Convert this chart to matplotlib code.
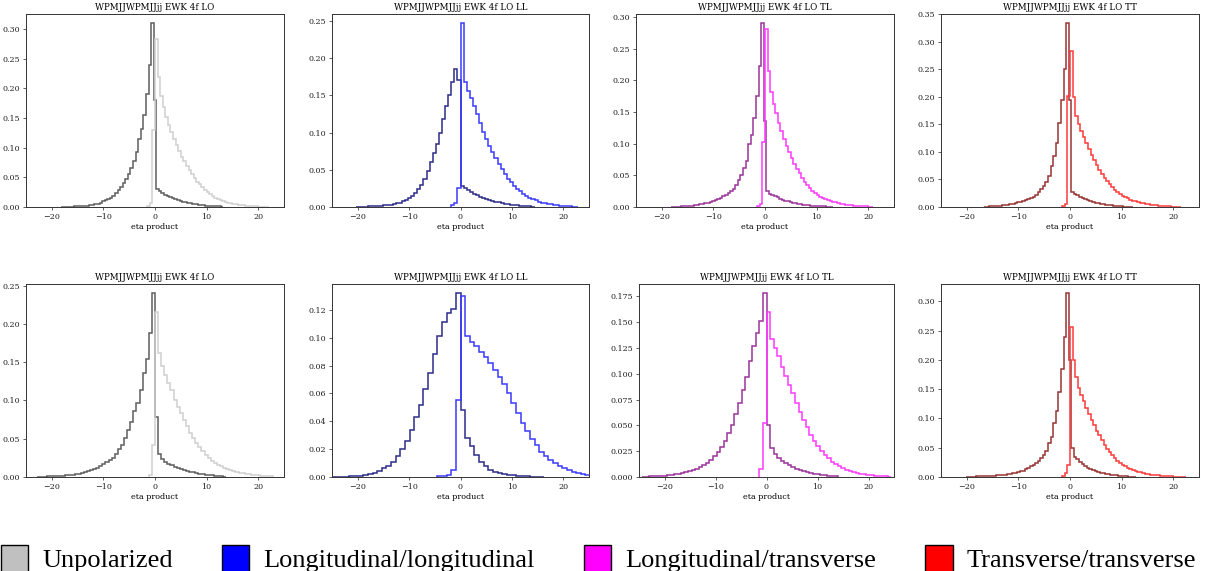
import numpy as np
import matplotlib
matplotlib.use("Agg")
import matplotlib.pyplot as plt
from matplotlib.patches import Patch

# panel titles, top row then bottom row
titles = ["WPMJJWPMJJjj EWK 4f LO", "WPMJJWPMJJjj EWK 4f LO LL",
          "WPMJJWPMJJjj EWK 4f LO TL", "WPMJJWPMJJjj EWK 4f LO TT"] * 2

legend_labels = ["Unpolarized", "Longitudinal/longitudinal",
                 "Longitudinal/transverse", "Transverse/transverse"]
legend_colors = ["#c0c0c0", "#0000ff", "#ff00ff", "#ff0000"]

# histogram binning
bin_width = [0.5, 0.6, 0.5, 0.5, 0.6, 0.9, 0.7, 0.5]
dark_start = [-18.25, -20.4, -18.25, -16.75, -22.8, -25.2, -24.5, -20.25]
light_start = [-1.5, -1.8, -1.5, -1.5, -1.2, -4.5, -1.4, -1.5]

# bin heights (density) for the negative-peaked ("dark") histogram
dark_1 = [0.0004, 0.0005, 0.0006, 0.0007, 0.0008, 0.001, 0.0012, 0.0014, 0.0017, 0.002,
          0.0025, 0.003, 0.0037, 0.0045, 0.0055, 0.0068,
          0.0095, 0.011, 0.013, 0.016, 0.019, 0.023, 0.028, 0.034, 0.04, 0.047,
          0.056, 0.066, 0.078, 0.093, 0.115, 0.132, 0.155, 0.19, 0.24, 0.31,
          0.18, 0.03, 0.027, 0.024, 0.021, 0.019, 0.017, 0.015, 0.013, 0.0115,
          0.01, 0.009, 0.008, 0.007, 0.006, 0.0052, 0.0045, 0.0039, 0.0034, 0.0029,
          0.0025, 0.0021, 0.0018, 0.0015, 0.0012, 0.001, 0.0008]
dark_2 = [0.0003, 0.0004, 0.0005, 0.0006, 0.0007, 0.0009, 0.0011, 0.0014, 0.0018, 0.0022,
          0.0027, 0.0033, 0.004, 0.0049, 0.006, 0.0075, 0.0093, 0.012, 0.015, 0.019,
          0.024, 0.03, 0.038, 0.048, 0.06, 0.072, 0.085, 0.1, 0.118, 0.136,
          0.151, 0.168, 0.185, 0.17,
          0.028, 0.026, 0.023, 0.02, 0.018, 0.016, 0.014, 0.0125, 0.011, 0.0095,
          0.0083, 0.0072, 0.0062, 0.0053, 0.0045, 0.0038, 0.0032, 0.0027, 0.0022, 0.0018,
          0.0014, 0.0011, 0.0008, 0.0005]
dark_3 = [0.0003, 0.0004, 0.0005, 0.0007, 0.0009, 0.0011, 0.0014, 0.0018, 0.0022, 0.0027,
          0.0033, 0.004, 0.0048, 0.0057, 0.0068, 0.008, 0.0093, 0.0108, 0.0125, 0.0145,
          0.017, 0.019, 0.022, 0.025, 0.029, 0.035, 0.042, 0.05, 0.061, 0.072,
          0.1, 0.114, 0.14, 0.175, 0.222, 0.29,
          0.135, 0.025, 0.021, 0.019, 0.017, 0.015, 0.013, 0.0115, 0.01, 0.0088,
          0.0077, 0.0067, 0.0058, 0.005, 0.0043, 0.0037, 0.0032, 0.0027, 0.0023, 0.0019,
          0.0016, 0.0013, 0.0011, 0.0009, 0.0007, 0.0005, 0.0004]
dark_4 = [0.0007, 0.0009, 0.0011, 0.0013, 0.0016, 0.002, 0.0024, 0.0029, 0.0034, 0.004,
          0.0048, 0.0057, 0.0068, 0.0082, 0.0095, 0.011, 0.0127, 0.0145, 0.0165, 0.019,
          0.0225, 0.027, 0.032, 0.038, 0.046, 0.056, 0.074, 0.092, 0.116, 0.153,
          0.195, 0.25, 0.334,
          0.195, 0.027, 0.024, 0.021, 0.018, 0.016, 0.014, 0.012, 0.0105, 0.009,
          0.0078, 0.0067, 0.0057, 0.0048, 0.004, 0.0034, 0.0028, 0.0023, 0.0019, 0.0015,
          0.0012, 0.0009, 0.0007, 0.0005, 0.0003]
dark_5 = [0.0003, 0.0004, 0.0005, 0.0007, 0.0008, 0.001, 0.0012, 0.0015, 0.0018, 0.0022,
          0.0026, 0.0031, 0.0037, 0.0044, 0.0052, 0.0062, 0.0074, 0.0088, 0.0104, 0.0122,
          0.0142, 0.0165, 0.019, 0.0218, 0.025, 0.0295, 0.036, 0.042, 0.051, 0.062,
          0.072, 0.086, 0.097, 0.114, 0.136, 0.154, 0.188, 0.24,
          0.078, 0.03, 0.023, 0.02, 0.0175, 0.0155, 0.0137, 0.012, 0.0105, 0.0092,
          0.008, 0.007, 0.006, 0.0051, 0.0043, 0.0036, 0.003, 0.0025, 0.002, 0.0016,
          0.0012, 0.0009, 0.0006]
dark_6 = [0.0001, 0.0001, 0.0002, 0.0003, 0.0005, 0.0007, 0.001, 0.0014, 0.002, 0.003,
          0.0045, 0.0065, 0.008, 0.011, 0.015, 0.02, 0.026, 0.034, 0.043, 0.052,
          0.063, 0.075, 0.088, 0.101, 0.111, 0.118, 0.121, 0.132,
          0.048, 0.028, 0.022, 0.016, 0.011, 0.0077, 0.0053, 0.0038, 0.0028, 0.002,
          0.0015, 0.0011, 0.0008, 0.0006, 0.0004, 0.0003, 0.0002, 0.0001]
dark_7 = [0.0003, 0.0004, 0.0005, 0.0007, 0.0008, 0.001, 0.0013, 0.0016, 0.002, 0.0025,
          0.0031, 0.0038, 0.0046, 0.0055, 0.0066, 0.008, 0.0096, 0.0115, 0.0138, 0.0165,
          0.02, 0.024, 0.029, 0.035, 0.0425, 0.05, 0.061, 0.072, 0.084, 0.097,
          0.112, 0.127, 0.139, 0.151, 0.178,
          0.05, 0.028, 0.022, 0.018, 0.0155, 0.0133, 0.0113, 0.0096, 0.0081, 0.0068,
          0.0057, 0.0047, 0.0039, 0.0032, 0.0026, 0.0021, 0.0016, 0.0012, 0.0009, 0.0006]
dark_8 = [0.0005, 0.0006, 0.0007, 0.0008, 0.001, 0.0011, 0.0013, 0.0015, 0.0017, 0.002,
          0.0022, 0.0025, 0.0028, 0.0032, 0.0036, 0.0041, 0.0046, 0.0053, 0.006, 0.0072,
          0.0085, 0.0097, 0.011, 0.013, 0.0154, 0.018, 0.021, 0.024, 0.027, 0.032,
          0.038, 0.044, 0.058, 0.069, 0.092, 0.112, 0.145, 0.185, 0.239, 0.314,
          0.2, 0.05, 0.035, 0.03, 0.026, 0.022, 0.019, 0.016, 0.014, 0.012,
          0.0102, 0.0087, 0.0074, 0.0063, 0.0053, 0.0045, 0.0038, 0.0032, 0.0027, 0.0022,
          0.0018, 0.0014, 0.0011, 0.0008, 0.0006, 0.0004]

# bin heights for the positive-peaked ("light") histogram
light_1 = [0.001, 0.006, 0.13, 0.283, 0.22, 0.188, 0.168, 0.152, 0.138, 0.126,
           0.115, 0.104, 0.094, 0.085, 0.077, 0.069, 0.062, 0.055, 0.049, 0.043,
           0.038, 0.033, 0.029, 0.025, 0.022, 0.019, 0.016, 0.014, 0.012, 0.0102,
           0.0087, 0.0074, 0.0063, 0.0053, 0.0045, 0.0038, 0.0032, 0.0027, 0.0022, 0.0018,
           0.0015, 0.0012, 0.001, 0.0008, 0.0006, 0.0005, 0.0004]
light_2 = [0.003, 0.006, 0.026, 0.247, 0.168, 0.156, 0.146, 0.136, 0.125, 0.113,
           0.101, 0.091, 0.082, 0.074, 0.066, 0.058, 0.051, 0.044, 0.038, 0.033,
           0.028, 0.024, 0.021, 0.018, 0.015, 0.0125, 0.0105, 0.0088, 0.0073, 0.006,
           0.005, 0.0041, 0.0034, 0.0027, 0.0022, 0.0017, 0.0013, 0.001, 0.0008, 0.0006,
           0.0004]
light_3 = [0.001, 0.005, 0.102, 0.281, 0.215, 0.181, 0.163, 0.148, 0.133, 0.12,
           0.108, 0.097, 0.087, 0.077, 0.068, 0.06, 0.053, 0.046, 0.04, 0.035,
           0.03, 0.026, 0.022, 0.019, 0.0165, 0.0143, 0.0125, 0.011, 0.0096, 0.0083,
           0.0072, 0.0062, 0.0053, 0.0045, 0.0038, 0.0032, 0.0027, 0.0023, 0.0019, 0.0016,
           0.0013, 0.0011, 0.0009, 0.0007, 0.0005]
light_4 = [0.001, 0.006, 0.201, 0.283, 0.2, 0.165, 0.15, 0.138, 0.127, 0.116,
           0.105, 0.095, 0.085, 0.076, 0.068, 0.06, 0.053, 0.047, 0.041, 0.036,
           0.031, 0.027, 0.0235, 0.0205, 0.018, 0.0155, 0.0135, 0.0117, 0.0101, 0.0087,
           0.0075, 0.0064, 0.0055, 0.0047, 0.004, 0.0034, 0.0029, 0.0024, 0.002, 0.0017,
           0.0014, 0.0011, 0.0009, 0.0007, 0.0005, 0.0004]
light_5 = [0.003, 0.042, 0.216, 0.162, 0.145, 0.133, 0.123, 0.113, 0.101, 0.092,
           0.083, 0.074, 0.066, 0.058, 0.051, 0.045, 0.039, 0.034, 0.029, 0.025,
           0.0215, 0.0185, 0.016, 0.0138, 0.0118, 0.0101, 0.0087, 0.0075, 0.0064, 0.0055,
           0.0047, 0.004, 0.0034, 0.0029, 0.0024, 0.002, 0.0016, 0.0013, 0.001, 0.0007]
light_6 = [0.0004, 0.0009, 0.0017, 0.005, 0.055, 0.13, 0.101, 0.097, 0.094, 0.09,
           0.0865, 0.082, 0.077, 0.072, 0.067, 0.06, 0.053, 0.046, 0.039, 0.033,
           0.027, 0.023, 0.018, 0.015, 0.012, 0.01, 0.0078, 0.0062, 0.0048, 0.0036,
           0.0027, 0.0019, 0.0013]
light_7 = [0.008, 0.052, 0.16, 0.134, 0.125, 0.117, 0.107, 0.098, 0.089, 0.081,
           0.072, 0.063, 0.055, 0.048, 0.041, 0.035, 0.03, 0.0255, 0.0215, 0.018,
           0.015, 0.0125, 0.0104, 0.0086, 0.0071, 0.0058, 0.0047, 0.0038, 0.0031, 0.0025,
           0.002, 0.0016, 0.0013, 0.001, 0.0008, 0.0006, 0.0004]
light_8 = [0.002, 0.007, 0.02, 0.256, 0.2, 0.17, 0.152, 0.14, 0.129, 0.118,
           0.108, 0.098, 0.088, 0.079, 0.071, 0.063, 0.055, 0.048, 0.042, 0.037,
           0.032, 0.028, 0.024, 0.021, 0.0185, 0.016, 0.014, 0.012, 0.0103, 0.0089,
           0.0077, 0.0066, 0.0057, 0.0049, 0.0042, 0.0036, 0.003, 0.0026, 0.0022, 0.0018,
           0.0015, 0.0012, 0.001, 0.0008, 0.0006, 0.0005, 0.0004, 0.0003]

dark_sets = [dark_1, dark_2, dark_3, dark_4, dark_5, dark_6, dark_7, dark_8]
light_sets = [light_1, light_2, light_3, light_4, light_5, light_6, light_7, light_8]

dark_colors = ["#5e5e5e", "#2c2c8a", "#9a339a", "#983434"]
light_colors = ["#cfcfcf", "#3a3aff", "#ff3aff", "#ff3a3a"]

plt.rcParams['font.family'] = 'DejaVu Serif'

fig = plt.figure(figsize=(12.1, 5.71), dpi=100)
W, H = 1210.0, 571.0

# axes boxes in pixels: left, top, right, bottom
boxes = [(26, 14, 284, 207), (332, 14, 589, 207), (636, 14, 894, 207), (941, 14, 1199, 207),
         (26, 284, 284, 477), (332, 284, 589, 477), (639, 284, 894, 477), (941, 284, 1199, 477)]

for i in range(8):
    l, t, r, b = boxes[i]
    ax = fig.add_axes([l / W, 1 - b / H, (r - l) / W, (b - t) / H])
    c = i % 4
    d = np.array(dark_sets[i])
    e_d = dark_start[i] + bin_width[i] * np.arange(len(d) + 1)
    ax.hist(e_d[:-1], bins=e_d, weights=d, histtype='step', color=dark_colors[c], lw=1.1)
    g = np.array(light_sets[i])
    e_g = light_start[i] + bin_width[i] * np.arange(len(g) + 1)
    ax.hist(e_g[:-1], bins=e_g, weights=g, histtype='step', color=light_colors[c], lw=1.1)
    ax.set_xlim(-25, 25)
    ax.set_xticks([-20, -10, 0, 10, 20])
    ax.set_title(titles[i], fontsize=6.3, pad=3)
    ax.set_xlabel("eta product", fontsize=5.8, labelpad=1.5)
    ax.tick_params(labelsize=5.8, length=2.5, width=0.5, pad=1.5, colors='#222222')
    for s in ax.spines.values():
        s.set_linewidth(0.7)
        s.set_color('#333333')

handles = [Patch(facecolor=legend_colors[k], edgecolor='black', lw=1.0) for k in range(4)]
fig.legend(handles, legend_labels, loc='lower center', bbox_to_anchor=(0.4945, -0.002),
           ncol=4, frameon=False, prop={'family': 'Liberation Serif', 'size': 19},
           handlelength=1.05, handleheight=1.2, handletextpad=0.53, columnspacing=1.85,
           borderpad=0, borderaxespad=0)

fig.savefig("out.png", dpi=100)
